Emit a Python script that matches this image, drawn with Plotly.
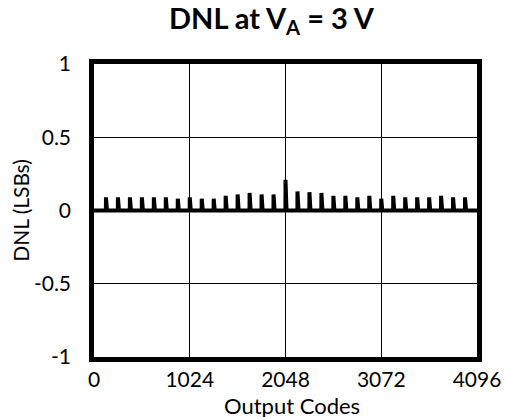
import plotly.graph_objects as go

# Output codes of the 12-bit converter and the codes where DNL spikes occur
n_codes = 4096
spike_codes = [128 * k for k in range(1, 32)]
spike_dnl = [
    0.09, 0.09, 0.09, 0.09, 0.09, 0.09, 0.08, 0.09,        # 128 .. 1024
    0.08, 0.08, 0.10, 0.11, 0.12, 0.11, 0.11,              # 1152 .. 1920
    0.21,                                                  # 2048
    0.13, 0.125, 0.12, 0.10, 0.10, 0.09, 0.10, 0.08,        # 2176 .. 3072
    0.10, 0.09, 0.09, 0.09, 0.10, 0.09, 0.09,              # 3200 .. 3968
]

x_ticks = [0, 1024, 2048, 3072, 4096]
x_ticklabels = ["0", "1024", "2048", "3072", "4096"]
y_ticks = [-1, -0.5, 0, 0.5, 1]
y_ticklabels = ["-1", "-0.5", "0", "0.5", "1"]

codes = list(range(n_codes + 1))
dnl = [0.0] * (n_codes + 1)
for c, v in zip(spike_codes, spike_dnl):
    dnl[c] = v

fig = go.Figure(
    go.Scatter(
        x=codes, y=dnl, mode="lines",
        line=dict(color="black", width=4),
        hoverinfo="skip",
    )
)

font = "Lato, 'Open Sans', sans-serif"
axis_common = dict(
    showline=True, linecolor="black", linewidth=4.5, mirror=True,
    showgrid=True, gridcolor="black", gridwidth=1,
    zeroline=False, ticks="", automargin=False,
    tickfont=dict(family=font, size=21, color="black"),
)

fig.update_layout(
    width=506, height=417,
    margin=dict(l=94, r=29, t=64, b=59.5),
    paper_bgcolor="white", plot_bgcolor="white",
    showlegend=False,
    title=dict(
        text="<b>DNL at V<sub>A</sub> = 3 V</b>",
        x=0.5366, xanchor="center", y=0.955, yanchor="middle",
        font=dict(family=font, size=29, color="black"),
    ),
    xaxis=dict(
        range=[0, 4096], tickvals=x_ticks, ticktext=x_ticklabels,
        ticklabelstandoff=0,
        **axis_common,
    ),
    yaxis=dict(
        range=[-1, 1], tickvals=y_ticks, ticktext=y_ticklabels,
        ticklabelstandoff=14,
        title=dict(text="DNL (LSBs)", standoff=0,
                   font=dict(family=font, size=21, color="black")),
        **axis_common,
    ),
)

# x-axis title placed just under the tick labels, at the page bottom
fig.add_annotation(
    text="Output Codes", showarrow=False,
    xref="paper", yref="paper", x=0.518, y=0,
    xanchor="center", yanchor="top", yshift=-33.5, borderpad=0,
    font=dict(family=font, size=22, color="black"),
)

fig.write_html("out.html")
